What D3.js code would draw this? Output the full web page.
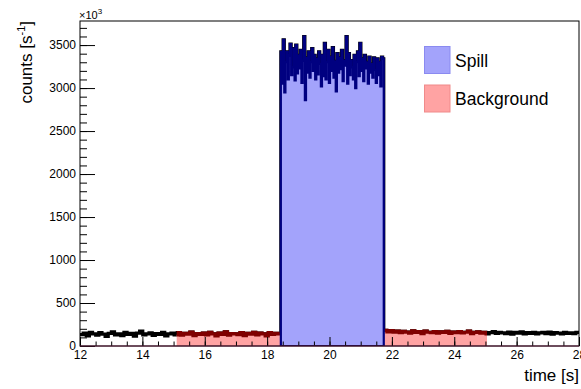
<!DOCTYPE html>
<html>
<head>
<meta charset="utf-8">
<script src="https://cdn.jsdelivr.net/npm/d3@7"></script>
<style>
html,body{margin:0;padding:0;background:#fff;}
svg{display:block;font-family:"Liberation Sans",Arial,Helvetica,sans-serif;}
</style>
</head>
<body>
<svg id="c" width="581" height="389"></svg>
<script>
// ---- data ----
const xDomain = [12, 28];
const yDomain = [0, 3780];
const xTicks = [12, 14, 16, 18, 20, 22, 24, 26, 28];
const xTickLabels = ["12", "14", "16", "18", "20", "22", "24", "26", "28"];
const yTicks = [0, 500, 1000, 1500, 2000, 2500, 3000, 3500];
const yTickLabels = ["0", "500", "1000", "1500", "2000", "2500", "3000", "3500"];

// time ranges of the segments [s]
const preRange = [12, 18.44];
const spillRange = [18.44, 21.74];
const postRange = [21.74, 28];
const bgRanges = [[15.1, 18.44], [21.74, 25.05]];

// counts [10^3 s^-1] per bin
const preValues = [132,150,118,160,140,125,155,138,112,148,
 165,130,142,120,158,136,146,115,150,172,
 128,140,152,122,145,135,160,118,142,150,
 130,155,125,148,138,162,120,145,135,150,
 128,158,140,118,150,135,165,125,145,140,
 132,155,120,148,138,160,128,150,142,118,
 155,135,148,140];
const spillValues = [3420,3050,3560,2950,3300,3420,3100,3380,3510,3150,
 3240,3460,3090,3500,3170,3380,3230,3440,3060,3320,
 3600,2860,3350,3180,3420,3120,3300,3460,3200,3380,
 3100,3340,3160,3420,3280,3020,3380,3140,3520,3100,
 3300,3440,3060,3360,3200,3470,3120,3310,2960,3400,
 3180,3350,3220,3440,3080,3320,3260,3600,3050,3400,
 3150,3320,3240,3100,3380,3000,3300,3420,3140,3520,
 3200,3340,3080,3380,3230,3300,3050,3360,3180,3280,
 3120,3350,3210,3060,3340,3150,3300,3020,3360,3340];
const postValues = [182,165,178,160,172,155,170,162,150,175,
 158,168,145,172,160,155,168,150,165,158,
 170,148,162,155,168,152,160,172,145,158,
 165,150,160,142,155,168,148,160,152,145,
 162,138,158,150,165,142,155,148,160,140,
 152,158,145,162,138,155,150,142,160,148,
 152,145,158];

const legendLabels = ["Spill", "Background"];
const legendFill = ["#a3a3fb", "#ffa3a3"];
const legendStroke = ["#8a8af0", "#f08a8a"];

// ---- drawing ----
const svg = d3.select("#c");
const x = d3.scaleLinear().domain(xDomain).range([80, 579]);
const y = d3.scaleLinear().domain(yDomain).range([346, 21]);

function bins(range, values) {
  const w = (range[1] - range[0]) / values.length;
  return values.map((v, i) => ({x0: range[0] + i * w, x1: range[0] + (i + 1) * w, v}));
}
function stepPath(bs, closed) {
  let p = "";
  bs.forEach((b, i) => {
    if (i === 0) p += closed ? `M${x(b.x0)},${y(0)}L${x(b.x0)},${y(b.v)}` : `M${x(b.x0)},${y(b.v)}`;
    else p += `L${x(b.x0)},${y(b.v)}`;
    p += `L${x(b.x1)},${y(b.v)}`;
  });
  if (closed) p += `L${x(bs[bs.length - 1].x1)},${y(0)}Z`;
  return p;
}

const preBins = bins(preRange, preValues);
const spillBins = bins(spillRange, spillValues);
const postBins = bins(postRange, postValues);
const allBins = preBins.concat(spillBins, postBins);

const defs = svg.append("defs");
const clip = defs.append("clipPath").attr("id", "bgclip");
clip.selectAll("rect").data(bgRanges).join("rect")
  .attr("x", d => x(d[0])).attr("width", d => x(d[1]) - x(d[0]))
  .attr("y", y(yDomain[1])).attr("height", y(0) - y(yDomain[1]));
defs.append("clipPath").attr("id", "frameclip").append("rect")
  .attr("x", x(xDomain[0])).attr("y", y(yDomain[1]))
  .attr("width", x(xDomain[1]) - x(xDomain[0])).attr("height", y(0) - y(yDomain[1]));

const plot = svg.append("g").attr("clip-path", "url(#frameclip)");

// full histogram (black)
plot.append("path").attr("d", stepPath(allBins, false))
  .attr("fill", "none").attr("stroke", "#000").attr("stroke-width", 3.2);

// background histogram
const bgG = plot.append("g").attr("clip-path", "url(#bgclip)");
[preBins, postBins].forEach(bs => {
  bgG.append("path").attr("d", stepPath(bs, true)).attr("fill", "#ffa3a3").attr("stroke", "none");
  bgG.append("path").attr("d", stepPath(bs, false)).attr("fill", "none")
    .attr("stroke", "#800000").attr("stroke-width", 3.2);
});

// spill histogram
plot.append("path").attr("d", stepPath(spillBins, true)).attr("fill", "#a3a3fb").attr("stroke", "none");
plot.append("path").attr("d", stepPath(spillBins, true)).attr("fill", "none")
  .attr("stroke", "#000080").attr("stroke-width", 2.2);

// axes
const font = "Liberation Sans, Arial, sans-serif";
const yAxis = d3.axisLeft(y).tickValues(yTicks).tickFormat((d, i) => yTickLabels[i])
  .tickSizeInner(-15).tickSizeOuter(0).tickPadding(4);
const yMinor = d3.axisLeft(y).tickValues(d3.range(0, 3781, 100)).tickFormat("")
  .tickSizeInner(-7).tickSizeOuter(0);
const xAxis = d3.axisBottom(x).tickValues(xTicks).tickFormat((d, i) => xTickLabels[i])
  .tickSizeInner(-9).tickSizeOuter(0).tickPadding(4);
const xMinor = d3.axisBottom(x).tickValues(d3.range(12, 28.01, 0.5)).tickFormat("")
  .tickSizeInner(-4.5).tickSizeOuter(0);

function style(g) {
  g.selectAll("path,line").attr("stroke", "#000").attr("stroke-width", 1);
  g.selectAll("text").attr("fill", "#000").style("font-size", "12px").style("font-family", font);
}
svg.append("g").attr("transform", `translate(${x(12)},0)`).call(yMinor).call(style);
svg.append("g").attr("transform", `translate(${x(12)},0)`).call(yAxis).call(style);
svg.append("g").attr("transform", `translate(0,${y(0)})`).call(xMinor).call(style);
svg.append("g").attr("transform", `translate(0,${y(0)})`).call(xAxis).call(style);
svg.selectAll(".domain").remove();

// frame
svg.append("rect").attr("x", x(12)).attr("y", y(yDomain[1]))
  .attr("width", x(28) - x(12)).attr("height", y(0) - y(yDomain[1]))
  .attr("fill", "none").attr("stroke", "#000").attr("stroke-width", 1);
svg.append("line").attr("x1", x(12)).attr("x2", x(28)).attr("y1", y(0)).attr("y2", y(0))
  .attr("stroke", "#5a1a3a").attr("stroke-width", 1.2);

// exponent
const ex = svg.append("text").attr("x", 79).attr("y", 19).style("font-size", "11px").style("font-family", font);
ex.append("tspan").text("×10");
ex.append("tspan").attr("dy", -5).style("font-size", "8px").text("3");

// axis titles
const yt = svg.append("text").attr("transform", `translate(32,21) rotate(-90)`)
  .attr("text-anchor", "end").style("font-size", "17px").style("font-family", font);
yt.append("tspan").text("counts [s");
yt.append("tspan").attr("dy", -7).style("font-size", "11px").text("-1");
yt.append("tspan").attr("dy", 7).text("]");

svg.append("text").attr("x", 579).attr("y", 381).attr("text-anchor", "end")
  .style("font-size", "17px").style("font-family", font).text("time [s]");

// legend
const leg = svg.append("g");
const ly = d3.scalePoint().domain(legendLabels).range([59.5, 98]);
leg.selectAll("rect").data(legendLabels).join("rect")
  .attr("x", 424.5).attr("y", d => ly(d) - 13).attr("width", 25.5).attr("height", 27)
  .attr("fill", (d, i) => legendFill[i]).attr("stroke", (d, i) => legendStroke[i]).attr("stroke-width", 1);
leg.selectAll("text").data(legendLabels).join("text")
  .attr("x", 455).attr("y", d => ly(d) + 7)
  .style("font-size", "17.5px").style("font-family", font).text(d => d);
</script>
</body>
</html>
